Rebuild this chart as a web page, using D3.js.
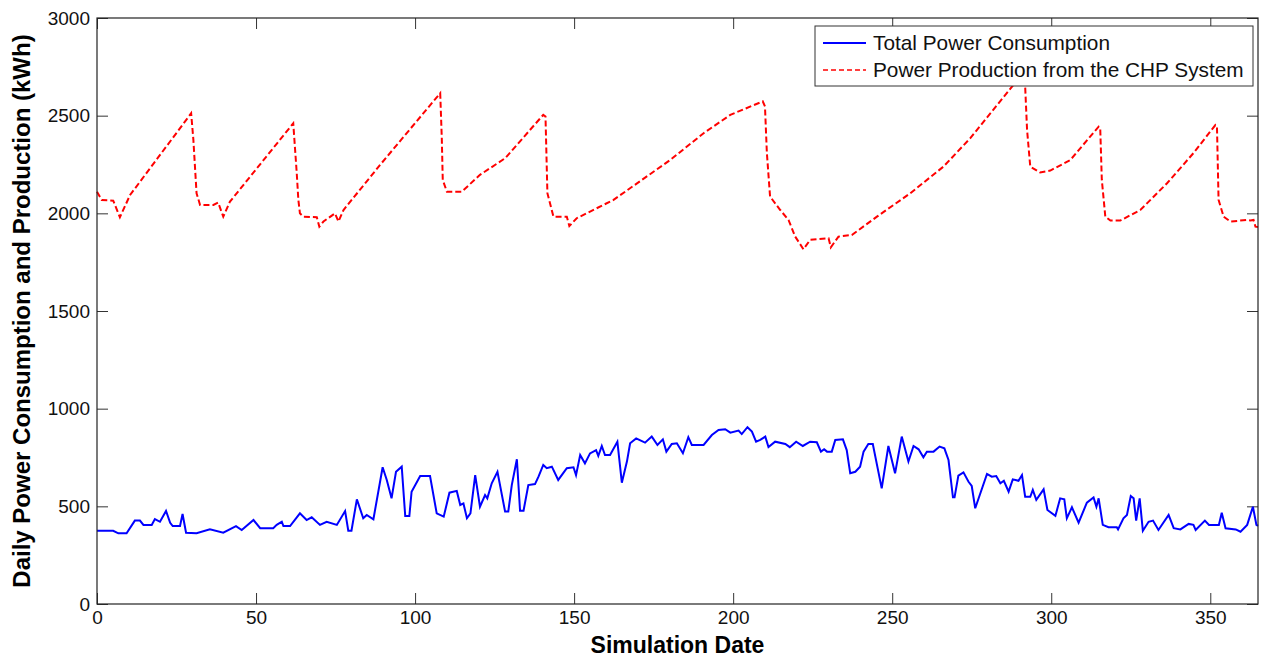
<!DOCTYPE html>
<meta charset="utf-8">
<style>
body{
  margin: 0;
  background: white;
  font-family: Arial, "Liberation Sans", Helvetica, sans-serif;
}
.tick text{
  font-size: 19px;
  fill: #111;
}
.lbl{
  font-weight: bold;
  font-size: 23px;
}
.legend text{
  font-size: 20.8px;
  fill: #111;
}
</style>
<body>
<div id="chart"></div>
<script src="https://cdnjs.cloudflare.com/ajax/libs/d3/7.8.5/d3.min.js"></script>
<script>

// [day, kWh] vertices
var production = [
  [0, 2110], [1.5, 2068], [5.1, 2065], [7.2, 1980], [10.4, 2094], [29.6, 2512],
  [30.3, 2376], [30.8, 2239], [31.3, 2103], [32.4, 2043], [36.6, 2043], [38.1, 2055],
  [39.7, 1983], [41.8, 2060], [61.7, 2461], [62.8, 2205], [63.3, 2069], [63.8, 2000],
  [64.9, 1983], [69.1, 1980], [69.9, 1932], [71.2, 1958], [74.8, 2000], [75.9, 1958],
  [77.5, 2017], [89, 2248], [107.9, 2615], [108.4, 2384], [108.7, 2171], [110, 2111],
  [114.7, 2111], [120.4, 2197], [128.3, 2282], [140.3, 2504], [141, 2496], [141.6, 2103],
  [143.5, 1983], [147.7, 1983], [148.5, 1935], [150.8, 1975], [162.4, 2069], [180.2, 2273],
  [190.7, 2410], [199.1, 2504], [209.3, 2573], [210, 2547], [210.6, 2308], [211.6, 2086],
  [214.8, 2017], [217.4, 1966], [219.5, 1881], [222.1, 1816], [224.2, 1864], [230, 1872],
  [230.7, 1826], [233.1, 1881], [237.3, 1889], [245.2, 1983], [255.7, 2103], [266.1, 2239],
  [274.5, 2384], [288.1, 2657], [290.5, 2720], [291.8, 2649], [292.4, 2427], [293.4, 2239],
  [296.5, 2209], [299.7, 2219], [306, 2273], [314.9, 2444], [315.4, 2436], [315.9, 2171],
  [317, 1983], [318.6, 1963], [321.7, 1963], [328, 2017], [336.4, 2154], [344.7, 2308],
  [351.6, 2452], [352.1, 2444], [352.6, 2069], [354.2, 1983], [356.3, 1958], [361.5, 1966],
  [362.6, 1963], [363.6, 1966], [364.2, 1932], [365, 1930]
]

var consumption = [
  [0, 375], [5.1, 375], [6.7, 362], [9.3, 362], [11.9, 427], [13.5, 427], [14.6, 405],
  [17.2, 405], [18.2, 435], [19.8, 421], [21.7, 476], [23, 416], [23.8, 399], [26.1, 399],
  [26.9, 461], [28, 365], [31.3, 362], [35.5, 382], [39.7, 365], [43.7, 399], [45.5, 379],
  [49.2, 430], [51.3, 388], [55.4, 388], [56.5, 405], [58.1, 421], [58.6, 399], [60.7, 399],
  [63.8, 464], [65.9, 430], [67.5, 444], [70.1, 405], [72.2, 421], [75.4, 405], [78, 476],
  [79, 375], [80, 375], [81.7, 536], [83.7, 439], [84.8, 456], [86.9, 434], [89.8, 700],
  [91.1, 635], [92.6, 541], [94, 677], [95.8, 703], [96.9, 451], [98.2, 451], [98.9, 575],
  [101.6, 655], [104.7, 655], [106.8, 464], [109, 447], [110.8, 570], [113.1, 579],
  [114.2, 507], [115.2, 515], [116.3, 439], [117.4, 464], [118.9, 660], [120.4, 498],
  [122, 558], [122.7, 541], [124.1, 618], [125.9, 677], [128.3, 473], [129.3, 473],
  [130.4, 609], [132, 741], [133, 478], [134.1, 478], [135.6, 609], [137.7, 614],
  [138.8, 652], [140.3, 712], [141.4, 695], [143, 703], [145, 635], [147.7, 695],
  [149.8, 700], [150.6, 660], [151.9, 763], [153.4, 720], [155, 771], [156.9, 788],
  [157.6, 758], [158.7, 809], [159.7, 763], [161.3, 763], [163.6, 831], [165, 621],
  [166.6, 729], [167.6, 823], [169.5, 848], [172.3, 826], [174.4, 857], [174.8, 848],
  [176.2, 814], [177.9, 843], [179, 780], [180.7, 819], [182.3, 823], [184.2, 772],
  [185.9, 854], [187, 814], [190.7, 814], [193.3, 865], [195.4, 891], [197.5, 895],
  [199.1, 877], [201.7, 888], [202.7, 870], [204.5, 905], [205.9, 883], [207.2, 831],
  [208.5, 840], [210.1, 857], [211.1, 803], [213.2, 831], [216.4, 819], [217.8, 803],
  [219.8, 831], [221.9, 809], [224.2, 831], [226.3, 828], [227.6, 780], [228.6, 792],
  [229.5, 780], [231, 780], [232.1, 840], [234.5, 843], [235.7, 788], [236.8, 669],
  [238.4, 677], [239.9, 703], [241, 780], [242.5, 819], [243.9, 819], [246.7, 592],
  [248.8, 809], [250.9, 669], [253, 857], [255.1, 729], [256.7, 809], [258.3, 792],
  [259.8, 751], [260.9, 780], [263, 780], [264.9, 806], [266.4, 797], [267.7, 737],
  [269.1, 546], [269.6, 546], [270.8, 657], [272.4, 674], [274, 626], [275, 604],
  [276.1, 490], [279.8, 666], [281.3, 652], [282.7, 655], [284, 618], [285.1, 631],
  [286.6, 575], [287.9, 638], [289.7, 631], [290.8, 660], [291.8, 549], [293.4, 549],
  [294.2, 584], [295.3, 533], [297.6, 587], [298.8, 481], [301.3, 451], [302.8, 541],
  [304.1, 536], [304.9, 439], [306.5, 495], [308.6, 416], [311.2, 519], [313.3, 546],
  [314.2, 498], [314.9, 541], [316.2, 405], [318, 393], [320.6, 393], [321, 382],
  [322.7, 439], [323.8, 456], [325, 553], [325.9, 541], [326.7, 427], [327.8, 541],
  [328.8, 375], [330.6, 421], [332, 427], [333.7, 379], [336.9, 456], [338.5, 388],
  [340.6, 382], [343.2, 410], [344.7, 405], [345.4, 379], [348.3, 427], [349.6, 405],
  [352.7, 405], [353.6, 467], [354.8, 388], [358, 382], [359.5, 370], [361.6, 405],
  [363.4, 498], [364.5, 405], [365, 400]
]

var xTicks = [0, 50, 100, 150, 200, 250, 300, 350]
var yTicks = [0, 500, 1000, 1500, 2000, 2500, 3000]
var seriesNames = ['Total Power Consumption', 'Power Production from the CHP System']

var width = 1261,
    height = 659,
    margin = {top: 18, right: 3, bottom: 55, left: 97},
    w = width - margin.left - margin.right,
    h = height - margin.top - margin.bottom,
    tickLen = 11

var svg = d3.select('#chart').append('svg')
    .attr('width', width)
    .attr('height', height)

var g = svg.append('g')
    .attr('transform', 'translate(' + margin.left + ',' + margin.top + ')')

var x = d3.scaleLinear().domain([0, 365]).range([0, w])
var y = d3.scaleLinear().domain([0, 3000]).range([h, 0])
var fmt = d3.format('d')

// axes with inward ticks, mirrored on top and right
g.append('g')
    .attr('transform', 'translate(0,' + h + ')')
    .call(d3.axisBottom(x).tickValues(xTicks).tickFormat(fmt).tickSizeInner(-tickLen).tickSizeOuter(0).tickPadding(7))
g.append('g')
    .call(d3.axisTop(x).tickValues(xTicks).tickSizeInner(-tickLen).tickSizeOuter(0).tickFormat(''))
g.append('g')
    .call(d3.axisLeft(y).tickValues(yTicks).tickFormat(fmt).tickSizeInner(-tickLen).tickSizeOuter(0).tickPadding(7))
g.append('g')
    .attr('transform', 'translate(' + w + ',0)')
    .call(d3.axisRight(y).tickValues(yTicks).tickSizeInner(-tickLen).tickSizeOuter(0).tickFormat(''))

g.selectAll('.domain').remove()
g.selectAll('.tick line').attr('stroke', '#333')
g.selectAll('.tick text').attr('font-family', 'Arial, "Liberation Sans", sans-serif')

var line = d3.line()
    .x(function(d){ return x(d[0]) })
    .y(function(d){ return y(d[1]) })

g.append('path')
    .datum(production)
    .attr('d', line)
    .attr('fill', 'none')
    .attr('stroke', '#ff0000')
    .attr('stroke-width', 2)
    .attr('stroke-dasharray', '6,3')

g.append('path')
    .datum(consumption)
    .attr('d', line)
    .attr('fill', 'none')
    .attr('stroke', '#0000ff')
    .attr('stroke-width', 2)

g.append('rect')
    .attr('width', w)
    .attr('height', h)
    .attr('fill', 'none')
    .attr('stroke', '#222')
    .attr('stroke-width', 1.2)

// legend
var legend = g.append('g')
    .attr('class', 'legend')
    .attr('transform', 'translate(718,8)')

legend.append('rect')
    .attr('width', 438)
    .attr('height', 60)
    .attr('fill', 'white')
    .attr('stroke', '#333')

var items = legend.selectAll('.item')
    .data(seriesNames)
  .enter().append('g')
    .attr('transform', function(d, i){ return 'translate(0,' + (17 + i * 27) + ')' })

items.append('line')
    .attr('x1', 8).attr('x2', 51)
    .attr('stroke', function(d, i){ return i ? '#ff0000' : '#0000ff' })
    .attr('stroke-width', function(d, i){ return i ? 1.5 : 2 })
    .attr('stroke-dasharray', function(d, i){ return i ? '5,3' : null })

items.append('text')
    .attr('x', 58)
    .attr('dy', '0.35em')
    .text(function(d){ return d })

svg.append('text')
    .attr('class', 'lbl')
    .attr('x', margin.left + w / 2)
    .attr('y', 653)
    .attr('text-anchor', 'middle')
    .text('Simulation Date')

svg.append('text')
    .attr('class', 'lbl')
    .style('font-size', '24px')
    .attr('transform', 'translate(30,' + (margin.top + h / 2) + ') rotate(-90)')
    .attr('text-anchor', 'middle')
    .text('Daily Power Consumption and Production (kWh)')

</script>
